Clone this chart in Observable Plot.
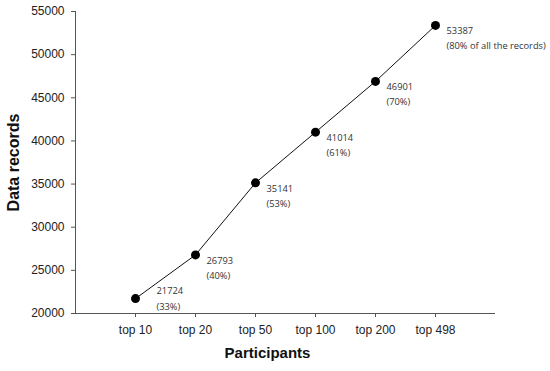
<!DOCTYPE html>
<html>
<head>
<meta charset="utf-8">
<script src="https://cdn.jsdelivr.net/npm/d3@7"></script>
<script src="https://cdn.jsdelivr.net/npm/@observablehq/plot@0.6"></script>
<style>
  html, body { margin: 0; padding: 0; background: #fff; }
  #chart svg { display: block; }
</style>
</head>
<body>
<div id="chart"></div>
<script>
const categories = ["top 10", "top 20", "top 50", "top 100", "top 200", "top 498"];
const records = [21724, 26793, 35141, 41014, 46901, 53387];
const shares = ["(33%)", "(40%)", "(53%)", "(61%)", "(70%)", "(80% of all the records)"];
const yTicks = [20000, 25000, 30000, 35000, 40000, 45000, 50000, 55000];

const data = categories.map((c, i) => ({cat: c, value: records[i], share: shares[i], first: i === 0}));

const annoFont = "'Open Sans', 'Noto Sans', sans-serif";
const anno = {x: "cat", y: "value", textAnchor: "start", fill: "#333", fontSize: 9.3, fontFamily: annoFont};

const chart = Plot.plot({
  width: 550,
  height: 371,
  marginLeft: 75,
  marginRight: 55,
  marginTop: 11,
  marginBottom: 58,
  style: {fontFamily: "'Liberation Sans', Arial, sans-serif", fontSize: "12px", color: "#222", background: "#fff"},
  x: {type: "point", domain: categories, padding: 1, label: null},
  y: {domain: [20000, 55000], ticks: yTicks, label: null},
  marks: [
    Plot.frame({anchor: "left", stroke: "#555"}),
    Plot.ruleY([20000], {stroke: "#555"}),
    Plot.axisY({ticks: yTicks, tickSize: 4, tickPadding: 7, tickFormat: d => String(d), label: null, stroke: "#555", fill: "#222", fontSize: 12}),
    Plot.axisX({tickSize: 4, tickPadding: 8, label: null, stroke: "#555", fill: "#222", fontSize: 12}),
    Plot.line(data, {x: "cat", y: "value", stroke: "#111", strokeWidth: 1}),
    Plot.dot(data, {x: "cat", y: "value", r: 4.5, fill: "#000", stroke: "none"}),
    Plot.text(data, {...anno, filter: d => !d.first, text: d => String(d.value), dx: 11, dy: 6}),
    Plot.text(data, {...anno, filter: d => !d.first, text: "share", dx: 11, dy: 21}),
    Plot.text(data, {...anno, filter: d => d.first, text: d => String(d.value), dx: 21, dy: -8}),
    Plot.text(data, {...anno, filter: d => d.first, text: "share", dx: 21, dy: 8}),
    Plot.text(["Participants"], {frameAnchor: "bottom", textAnchor: "middle", text: d => d, dx: -18, dy: 44, fontSize: 15, fontWeight: "bold", fill: "#111"}),
    Plot.text(["Data records"], {frameAnchor: "left", textAnchor: "middle", text: d => d, rotate: -90, dx: -62, fontSize: 16, fontWeight: "bold", fill: "#111"})
  ]
});
document.getElementById("chart").appendChild(chart);
</script>
</body>
</html>
